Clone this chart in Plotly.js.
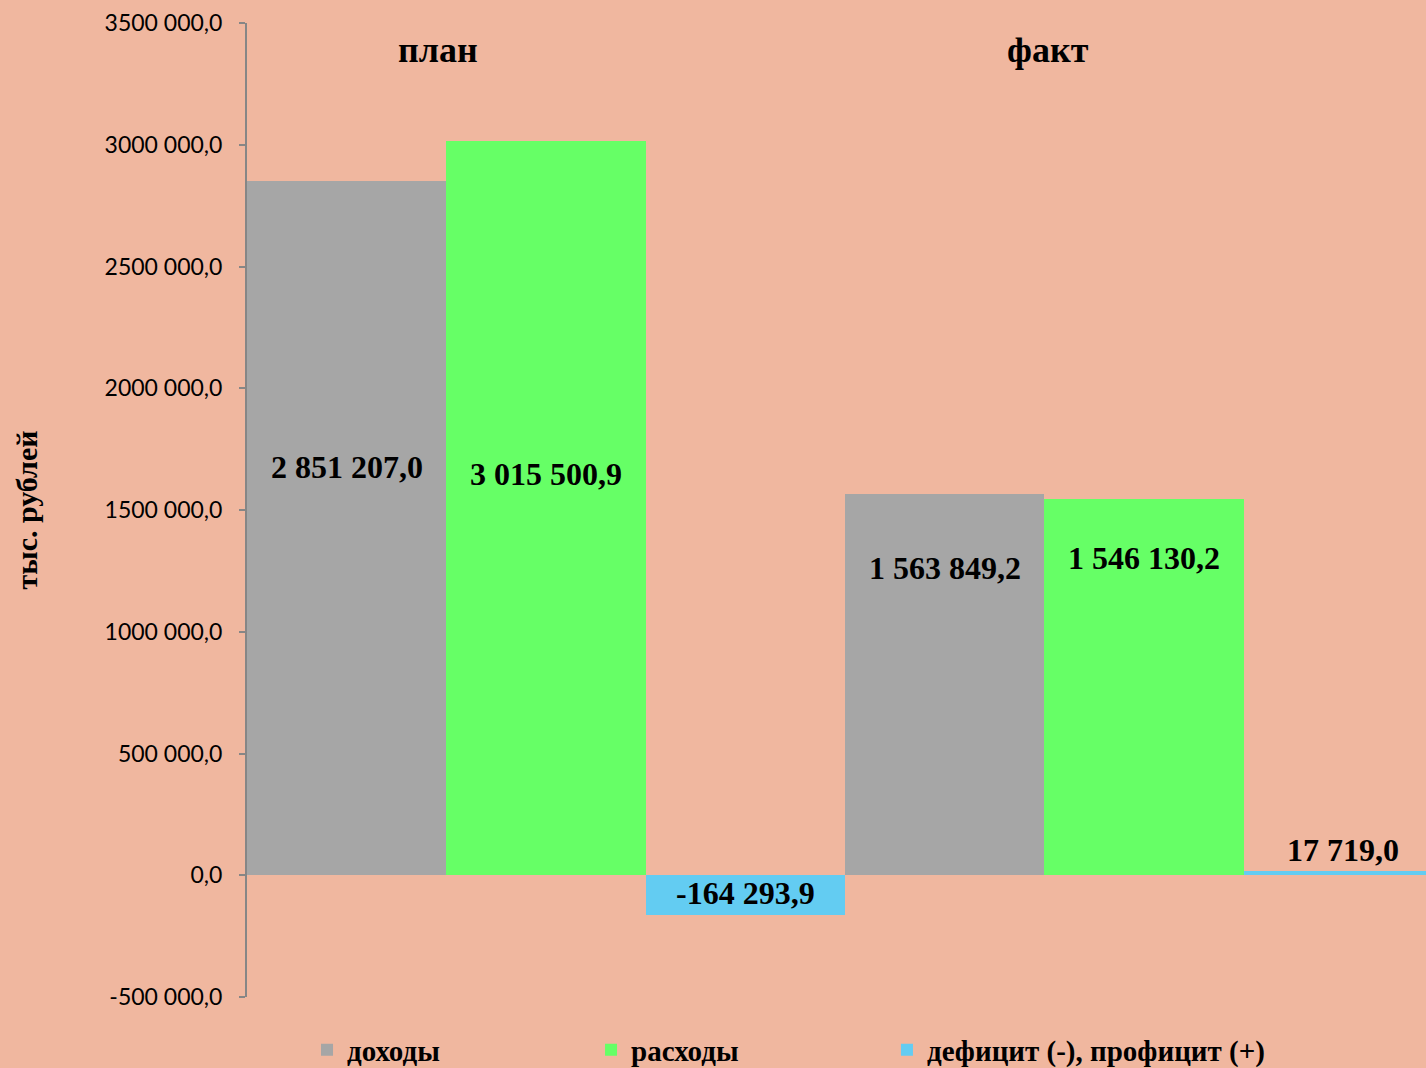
<!DOCTYPE html>
<html>
<head>
<meta charset="utf-8">
<script src="https://cdn.plot.ly/plotly-3.0.1.min.js"></script>
<style>html,body{margin:0;padding:0;background:#F0B79F;}#chart{width:1426px;height:1068px;}</style>
</head>
<body>
<div id="chart"></div>
<script>
// ---- data ----
var categories = ["план", "факт"];
var seriesNames = ["доходы", "расходы", "дефицит (-), профицит (+)"];
var incomeValues = [2851207.0, 1563849.2];
var expenseValues = [3015500.9, 1546130.2];
var balanceValues = [-164293.9, 17719.0];
var tickValues = [-500000, 0, 500000, 1000000, 1500000, 2000000, 2500000, 3000000, 3500000];
var tickLabels = ["-500 000,0", "0,0", "500 000,0", "1000 000,0", "1500 000,0", "2000 000,0", "2500 000,0", "3000 000,0", "3500 000,0"];
var axisTitle = "тыс. рублей";

// ---- styling ----
var colors = ["#A6A6A6", "#66FF66", "#63CCF2"];
var bg = "#F0B79F";
var serif = "Liberation Serif, Times New Roman, serif";

function fmt(v) {
  var neg = v < 0;
  var s = Math.abs(v).toFixed(1).split(".");
  var intPart = s[0].replace(/\B(?=(\d{3})+(?!\d))/g, " ");
  return (neg ? "-" : "") + intPart + "," + s[1];
}

var legendIds = ["legend", "legend2", "legend3"];
var seriesValues = [incomeValues, expenseValues, balanceValues];
var traces = seriesValues.map(function (vals, i) {
  return {
    type: "bar",
    name: seriesNames[i],
    x: categories,
    y: vals,
    legend: legendIds[i],
    marker: {color: colors[i], line: {width: 0}},
    hoverinfo: "skip"
  };
});

// label placement (layout): offset of each series within a category and label heights
var seriesOffset = [-1 / 3, 0, 1 / 3];
var labelAt = [
  [1675000, 1261000],
  [1647000, 1302000],
  [-74000, 103000]
];
var annotations = [];
seriesValues.forEach(function (vals, i) {
  vals.forEach(function (v, j) {
    annotations.push({
      xref: "x", yref: "y",
      x: j + seriesOffset[i],
      y: labelAt[i][j],
      text: "<b>" + fmt(v) + "</b>",
      showarrow: false,
      font: {family: serif, size: 32, color: "#000"},
      xanchor: "center", yanchor: "middle"
    });
  });
});
var catLabelX = [-0.18, 0.84];
categories.forEach(function (c, j) {
  annotations.push({
    xref: "x", yref: "paper",
    x: catLabelX[j], y: 0.972,
    text: "<b>" + c + "</b>",
    showarrow: false,
    font: {family: serif, size: 36, color: "#000"},
    xanchor: "center", yanchor: "middle"
  });
});

var legendX = [0.0509, 0.2918, 0.5428];
function legendBox(i) {
  return {
    orientation: "h", x: legendX[i], xanchor: "left",
    yref: "container", y: 0.0169, yanchor: "middle",
    font: {family: serif, size: 29, color: "#000", weight: "bold"},
    itemwidth: 30, bgcolor: "rgba(0,0,0,0)"
  };
}

var layout = {
  width: 1426, height: 1068,
  paper_bgcolor: bg, plot_bgcolor: bg,
  margin: {l: 247, r: 0, t: 23, b: 71},
  barmode: "group", bargap: 0, bargroupgap: 0,
  showlegend: true,
  legend: legendBox(0),
  legend2: legendBox(1),
  legend3: legendBox(2),
  xaxis: {
    type: "category", range: [-0.5, 1.4716],
    showticklabels: false, showgrid: false, zeroline: false, showline: false, ticks: ""
  },
  yaxis: {
    range: [-500000, 3500000],
    tickvals: tickValues, ticktext: tickLabels,
    tickfont: {family: "Lato, Calibri, sans-serif", size: 23, color: "#000"},
    ticklabelstandoff: 12,
    ticks: "outside", ticklen: 6, tickwidth: 2, tickcolor: "#868686",
    showline: true, linecolor: "#868686", linewidth: 2,
    showgrid: false, zeroline: false,
    title: {text: "<b>" + axisTitle + "</b>", font: {family: serif, size: 30, color: "#000"}, standoff: 58}
  },
  annotations: annotations
};

Plotly.newPlot("chart", traces, layout, {displayModeBar: false, staticPlot: true});
</script>
</body>
</html>
